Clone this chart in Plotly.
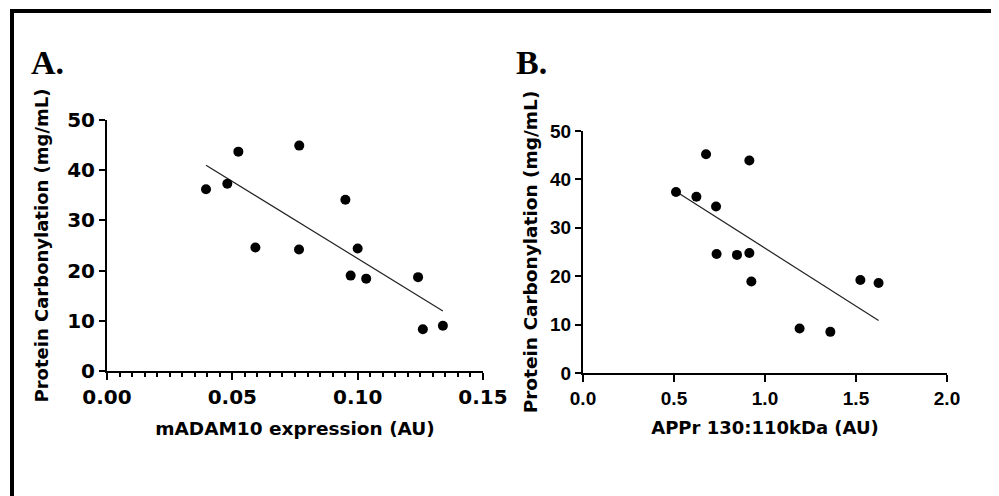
import numpy as np
import plotly.graph_objects as go

# panel A: mADAM10 expression vs protein carbonylation
adam10_x = [0.0395, 0.048, 0.0524, 0.0767, 0.0951, 0.0592, 0.0766, 0.1000, 0.0972, 0.1034, 0.1241, 0.126, 0.134]
adam10_y = [36.2, 37.3, 43.7, 44.9, 34.1, 24.6, 24.2, 24.4, 19.0, 18.4, 18.7, 8.3, 9.0]

# panel B: APPr 130:110kDa vs protein carbonylation
appr_x = [0.511, 0.623, 0.676, 0.914, 0.731, 0.734, 0.846, 0.914, 0.925, 1.190, 1.359, 1.524, 1.624]
appr_y = [37.4, 36.4, 45.2, 43.9, 34.4, 24.6, 24.4, 24.8, 18.9, 9.2, 8.5, 19.2, 18.6]

y_ticks = [0, 10, 20, 30, 40, 50]
a_ticks = [0.0, 0.05, 0.10, 0.15]
a_labels = ["0.00", "0.05", "0.10", "0.15"]
b_ticks = [0.0, 0.5, 1.0, 1.5, 2.0]
b_labels = ["0.0", "0.5", "1.0", "1.5", "2.0"]

# page has an 8px body margin, so the figure is a bit smaller and everything is shifted
OFF = 8
W, H = 999 - OFF, 496 - OFF
verdana = "DejaVu Sans"
arial = "Liberation Sans"


def px(v):
    return (v - OFF) / W


def py(v):
    return 1 - (v - OFF) / H


def fit(xs, ys):
    k, b = np.polyfit(xs, ys, 1)
    xx = [min(xs), max(xs)]
    return xx, [k * v + b for v in xx]


fig = go.Figure()
fx, fy = fit(adam10_x, adam10_y)
fig.add_trace(go.Scatter(x=fx, y=fy, mode="lines", line=dict(color="#222", width=1.2),
                         xaxis="x", yaxis="y", showlegend=False))
fig.add_trace(go.Scatter(x=adam10_x, y=adam10_y, mode="markers",
                         marker=dict(color="black", size=10), xaxis="x", yaxis="y", showlegend=False))
fx, fy = fit(appr_x, appr_y)
fig.add_trace(go.Scatter(x=fx, y=fy, mode="lines", line=dict(color="#222", width=1.2),
                         xaxis="x2", yaxis="y2", showlegend=False))
fig.add_trace(go.Scatter(x=appr_x, y=appr_y, mode="markers",
                         marker=dict(color="black", size=10), xaxis="x2", yaxis="y2", showlegend=False))

axis_common = dict(showgrid=False, zeroline=False, showline=True, linecolor="black", linewidth=2,
                   ticks="outside", tickcolor="black", tickwidth=2, ticklen=7, automargin=False)

fig.update_layout(
    width=W, height=H,
    margin=dict(l=0, r=0, t=0, b=0, autoexpand=False),
    plot_bgcolor="white", paper_bgcolor="white",
    xaxis=dict(axis_common, domain=[px(107), px(483)], range=[0, 0.15], anchor="y",
               tickvals=a_ticks, ticktext=a_labels,
               tickfont=dict(family=verdana, size=20, color="black", weight="bold"),
               minor=dict(dtick=0.005, ticks="outside", ticklen=4, tickwidth=2, tickcolor="black"),
               title=dict(text="<b>mADAM10 expression (AU)</b>",
                          font=dict(family=verdana, size=18.5, color="black"), standoff=14)),
    yaxis=dict(axis_common, domain=[py(371), py(120)], range=[0, 50], anchor="x",
               tickvals=y_ticks, ticklen=6,
               tickfont=dict(family=verdana, size=20, color="black", weight="bold"),
               title=dict(text="<b>Protein Carbonylation (mg/mL)</b>",
                          font=dict(family=verdana, size=18, color="black"), standoff=14)),
    xaxis2=dict(axis_common, domain=[px(583), px(947)], range=[0, 2.0], anchor="y2",
                tickvals=b_ticks, ticktext=b_labels,
                tickfont=dict(family=arial, size=19, color="black", weight="bold"),
                title=dict(text="<b>APPr 130:110kDa (AU)</b>",
                           font=dict(family=verdana, size=18, color="black"), standoff=14)),
    yaxis2=dict(axis_common, domain=[py(373), py(131)], range=[0, 50], anchor="x2",
                tickvals=y_ticks, ticklen=6,
                tickfont=dict(family=arial, size=19, color="black", weight="bold"),
                title=dict(text="<b>Protein Carbonylation (mg/mL)</b>",
                           font=dict(family=verdana, size=18.5, color="black"), standoff=8)),
    shapes=[
        dict(type="line", xref="paper", yref="paper", x0=px(10), x1=1, y0=py(11), y1=py(11),
             line=dict(color="black", width=4)),
        dict(type="line", xref="paper", yref="paper", x0=px(12), x1=px(12), y0=0, y1=py(9),
             line=dict(color="black", width=4)),
    ],
    annotations=[
        dict(text="<b>A.</b>", xref="paper", yref="paper", x=px(29), y=py(83),
             xanchor="left", yanchor="bottom", showarrow=False,
             font=dict(family="Liberation Serif", size=34, color="black")),
        dict(text="<b>B.</b>", xref="paper", yref="paper", x=px(514), y=py(83),
             xanchor="left", yanchor="bottom", showarrow=False,
             font=dict(family="Liberation Serif", size=34, color="black")),
    ],
)

fig.write_html("out.html")
